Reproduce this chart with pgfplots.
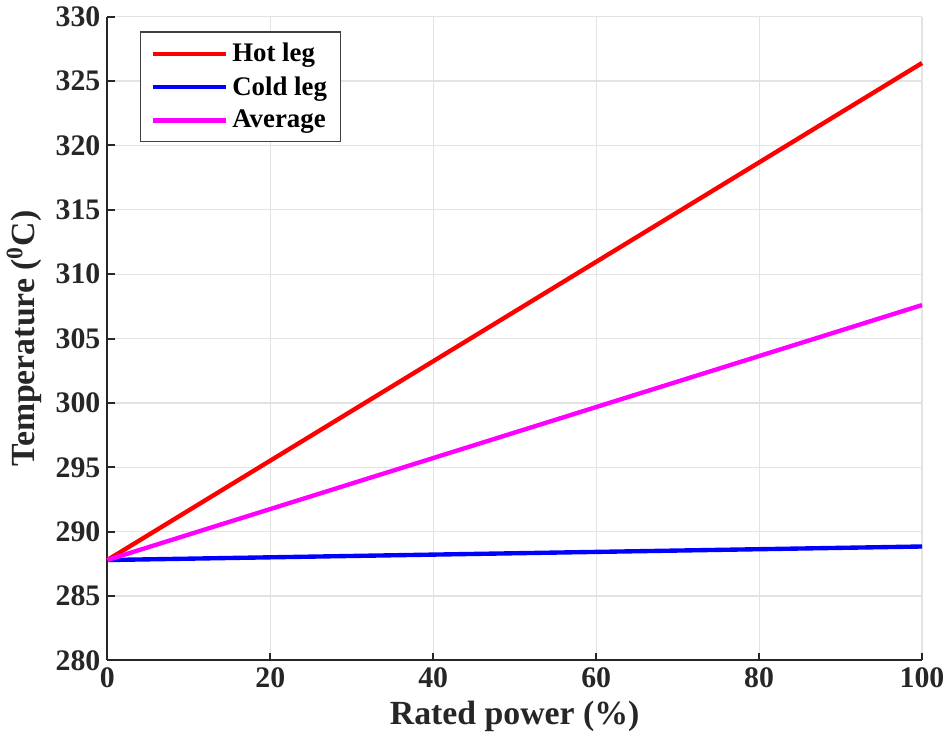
\documentclass[border=0pt]{standalone}
\usepackage{pgfplots}
\pgfplotsset{compat=1.18}
\usepackage{fontspec}
\setmainfont{Liberation Serif}
\definecolor{hotred}{RGB}{255,0,0}
\definecolor{coldblue}{RGB}{0,0,255}
\definecolor{avgmag}{RGB}{255,0,255}
\begin{document}
\begin{tikzpicture}
\begin{axis}[
  scale only axis,
  width=410pt, height=324pt,
  xmin=0, xmax=100, ymin=280, ymax=330,
  xtick={0,20,...,100}, ytick={280,285,...,330},
  axis x line*=bottom, axis y line*=left,
  axis line style={black!85, line width=1pt},
  tick style={black!85, line width=1pt},
  tick align=inside,
  major tick length=4pt,
  grid=major,
  major grid style={gray!22, line width=0.6pt},
  /pgf/number format/assume math mode=true,
  ticklabel style={font=\fontsize{15}{18}\selectfont\bfseries, text=black!85},
  label style={font=\fontsize{17}{20}\selectfont\bfseries, text=black!85},
  xlabel={Rated power (\%)},
  ylabel={Temperature (\textsuperscript{0}C)},
  legend style={at={(rel axis cs:0.04,0.977)}, anchor=north west,
    font=\fontsize{13.5}{16}\selectfont\bfseries, draw=black!75, line width=0.6pt,
    row sep=2pt, inner xsep=5pt, inner ysep=3.5pt},
  legend cell align=left,
  legend image code/.code={\draw[#1, line width=2.2pt] (0cm,0cm) -- (1.3cm,0cm);},
  clip=false,
]
\addplot[hotred, line width=2.2pt] coordinates {(0,287.8) (100,326.4)};
\addlegendentry{Hot leg}
\addplot[coldblue, line width=2.2pt] coordinates {(0,287.8) (100,288.85)};
\addlegendentry{Cold leg}
\addplot[avgmag, line width=2.2pt] coordinates {(0,287.8) (100,307.6)};
\addlegendentry{Average}
\end{axis}
\end{tikzpicture}
\end{document}
